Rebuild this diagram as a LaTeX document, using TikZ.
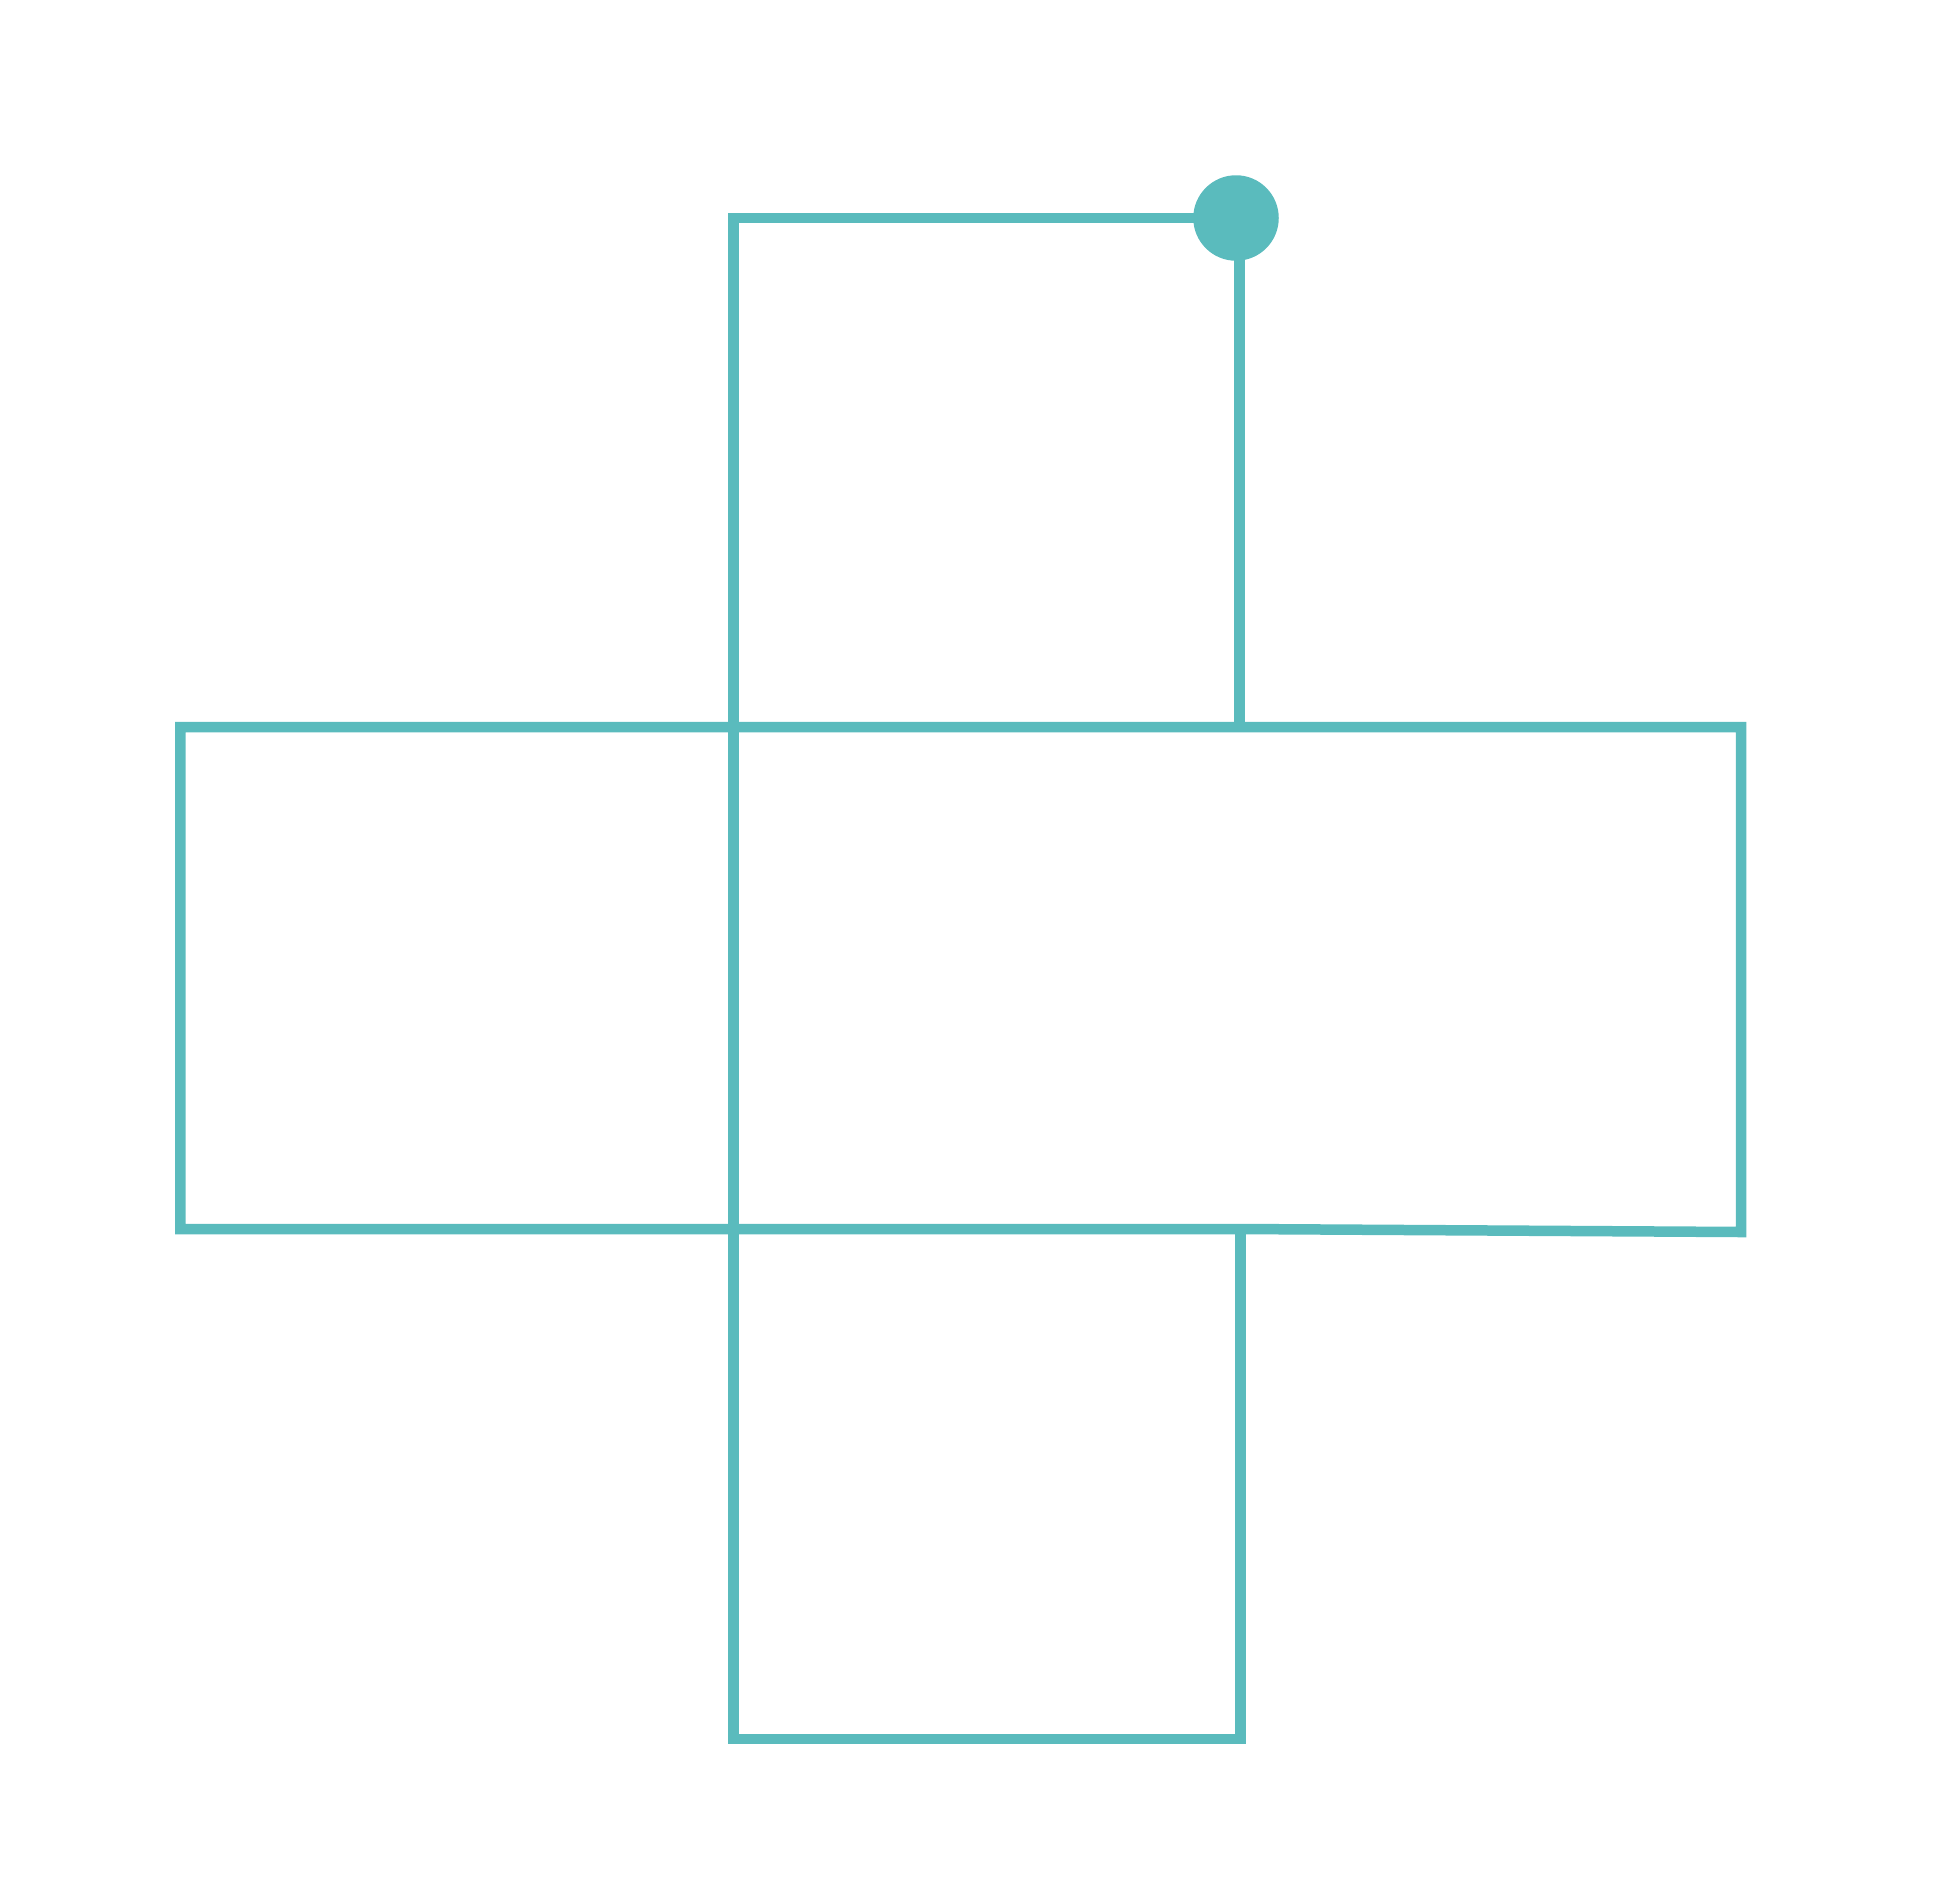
\documentclass[tikz,border=0pt]{standalone}
\definecolor{teal1}{RGB}{90,187,189}
\begin{document}
\begin{tikzpicture}[x=1pt,y=-1pt,
  edge/.style={draw=teal1,line width=10.5pt,line join=miter},
  dot/.style={circle,fill=teal1,minimum size=85.5pt,inner sep=0pt}]
\useasboundingbox (0,0) rectangle (1954,1899);
\coordinate (c) at (1236,218);
\coordinate (tl) at (733.5,218);
\coordinate (bl) at (733.5,1739);
\coordinate (br) at (1240.5,1739);
\coordinate (mj) at (1240.5,1229);
\coordinate (wtl) at (180.3,727);
\coordinate (wtr) at (1741,727);
\coordinate (wbr) at (1741,1232);
\coordinate (wbl) at (180.3,1229);
\coordinate (vt) at (1239.5,218);
\coordinate (vb) at (1239.5,727);
\draw[edge] (c) -- (tl) -- (bl) -- (br) -- (mj);
\draw[edge] (wtl) -- (wtr) -- (wbr) -- (mj) -- (wbl) -- cycle;
\draw[edge] (vt) -- (vb);
\node[dot] (dotn) at (c) {};
\end{tikzpicture}
\end{document}
